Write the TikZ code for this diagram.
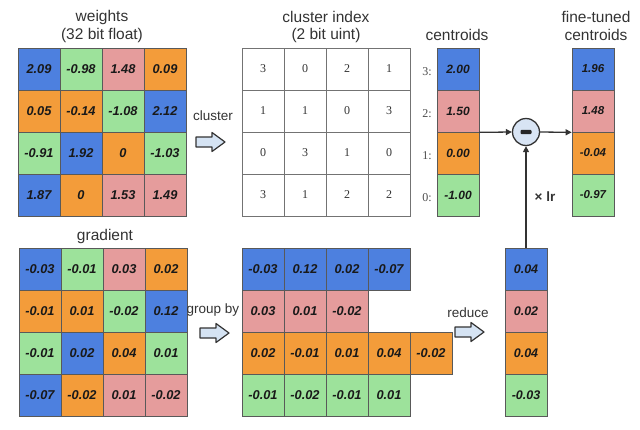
\documentclass[tikz,border=0pt]{standalone}
\usepackage{fontspec}
\setmainfont{Liberation Sans}
\newfontfamily\idxserif{Liberation Serif}
\usetikzlibrary{arrows.meta}
\definecolor{cb}{HTML}{4D80DF}
\definecolor{cg}{HTML}{9DE29B}
\definecolor{cp}{HTML}{E59C9C}
\definecolor{co}{HTML}{F39C3A}
\definecolor{afill}{HTML}{D5E3F3}
\definecolor{cfill}{HTML}{D8E4F4}
\definecolor{txt}{HTML}{333333}
\newcommand\numfont{\fontsize{12.8}{14}\selectfont\bfseries\itshape}
\begin{document}
\begin{tikzpicture}[x=1pt,y=-1pt,
  cell/.style={draw=black!65, line width=0.7pt, minimum width=42pt, minimum height=42pt, inner sep=0pt, font=\numfont, text=black!90},
  smallcell/.style={cell, font=\fontsize{12}{13}\selectfont\bfseries\itshape},
  idxcell/.style={draw=black!55, line width=0.7pt, minimum width=42pt, minimum height=42pt, inner sep=0pt, font=\idxserif\fontsize{12}{13}\selectfont, text=black!80},
  title/.style={font=\fontsize{15.5}{17}\selectfont, text=txt, inner sep=0pt},
  lbl/.style={font=\fontsize{13.5}{15}\selectfont, text=txt, inner sep=0pt},
  idxlbl/.style={font=\idxserif\fontsize{12}{13}\selectfont, text=black!70, inner sep=0pt},
  conn/.style={draw=black!80, line width=1.3pt, -{Triangle[length=6pt,width=6pt]}},
  barrow/.style={draw=black!80, line width=1.2pt, fill=afill, line join=round},
  blockarr/.pic={\draw[barrow] (0,-5) -- (16,-5) -- (16,-9.5) -- (29,0) -- (16,9.5) -- (16,5) -- (0,5) -- cycle;}
]
\useasboundingbox (0,0) rectangle (640,429);

% titles
\node[title] (tw1) at (102,17) {weights};
\node[title] (tw2) at (102,35) {(32 bit float)};
\node[title] (tc1) at (326,17) {cluster index};
\node[title] (tc2) at (326,35) {(2 bit uint)};
\node[title] (tce) at (457,35) {centroids};
\node[title] (tf1) at (596,17) {fine-tuned};
\node[title] (tf2) at (596,35) {centroids};
\node[title] (tg) at (105,236) {gradient};

% weights
\foreach \r/\vals in {0/{2.09/cb,-0.98/cg,1.48/cp,0.09/co},
                      1/{0.05/co,-0.14/co,-1.08/cg,2.12/cb},
                      2/{-0.91/cg,1.92/cb,0/co,-1.03/cg},
                      3/{1.87/cb,0/co,1.53/cp,1.49/cp}}{
  \foreach \v/\c [count=\j from 0] in \vals {
    \node[cell, fill=\c] (w\r\j) at ({39+42*\j},{69+42*\r}) {\v};
  }
}

% cluster index
\foreach \r/\vals in {0/{3,0,2,1},1/{1,1,0,3},2/{0,3,1,0},3/{3,1,2,2}}{
  \foreach \v [count=\j from 0] in \vals {
    \node[idxcell] (k\r\j) at ({263+42*\j},{69+42*\r}) {\v};
  }
}

% centroids
\foreach \k/\v/\c [count=\r from 0] in {3/2.00/cb,2/1.50/cp,1/0.00/co,0/-1.00/cg}{
  \node[smallcell, fill=\c] (ct\k) at (458,{69+42*\r}) {\v};
  \node[idxlbl] (cl\k) at (427,{72+42*\r}) {\k:};
}

% fine-tuned centroids
\foreach \k/\v/\c [count=\r from 0] in {3/1.96/cb,2/1.48/cp,1/-0.04/co,0/-0.97/cg}{
  \node[smallcell, fill=\c, font=\fontsize{11.5}{13}\selectfont\bfseries\itshape] (ft\k) at (593,{69+42*\r}) {\v};
}

% gradient
\foreach \r/\vals in {0/{-0.03/cb,-0.01/cg,0.03/cp,0.02/co},
                      1/{-0.01/co,0.01/co,-0.02/cg,0.12/cb},
                      2/{-0.01/cg,0.02/cb,0.04/co,0.01/cg},
                      3/{-0.07/cb,-0.02/co,0.01/cp,-0.02/cp}}{
  \foreach \v/\c [count=\j from 0] in \vals {
    \node[cell, fill=\c] (g\r\j) at ({40+42*\j},{269+42*\r}) {\v};
  }
}

% grouped gradient
\foreach \r/\c/\vals in {0/cb/{-0.03,0.12,0.02,-0.07},
                         1/cp/{0.03,0.01,-0.02},
                         2/co/{0.02,-0.01,0.01,0.04,-0.02},
                         3/cg/{-0.01,-0.02,-0.01,0.01}}{
  \foreach \v [count=\j from 0] in \vals {
    \node[cell, fill=\c] (gg\r\j) at ({263+42*\j},{269+42*\r}) {\v};
  }
}

% reduced
\foreach \k/\v/\c [count=\r from 0] in {3/0.04/cb,2/0.02/cp,1/0.04/co,0/-0.03/cg}{
  \node[smallcell, fill=\c, font=\fontsize{12.5}{14}\selectfont\bfseries\itshape] (rd\k) at (526,{269+42*\r}) {\v};
}

% labels and block arrows
\node[lbl] (lc) at (213,116) {cluster};
\pic at (196,142) {blockarr};
\node[lbl] (lg) at (213,310) {group by};
\pic at (200,333) {blockarr};
\node[lbl] (lr) at (468,313) {reduce};
\pic at (455,332) {blockarr};

% minus operation
\node[circle, draw=black!80, line width=1.3pt, fill=cfill, minimum size=27pt, inner sep=0pt] (minus) at (526,132) {};
\fill[black!85, rounded corners=1pt] ([xshift=-5.5pt,yshift=-2.2pt]minus.center) rectangle ([xshift=5.5pt,yshift=2.2pt]minus.center);

\draw[conn] (ct2.south east) -- (minus.west);
\draw[conn] (minus.east) -- (ft2.south west);
\draw[conn] (rd3.north) -- (minus.south);
\node[font=\fontsize{13.5}{15}\selectfont\bfseries, text=txt, inner sep=0pt] (lr2) at (545,197) {× lr};
\end{tikzpicture}
\end{document}
